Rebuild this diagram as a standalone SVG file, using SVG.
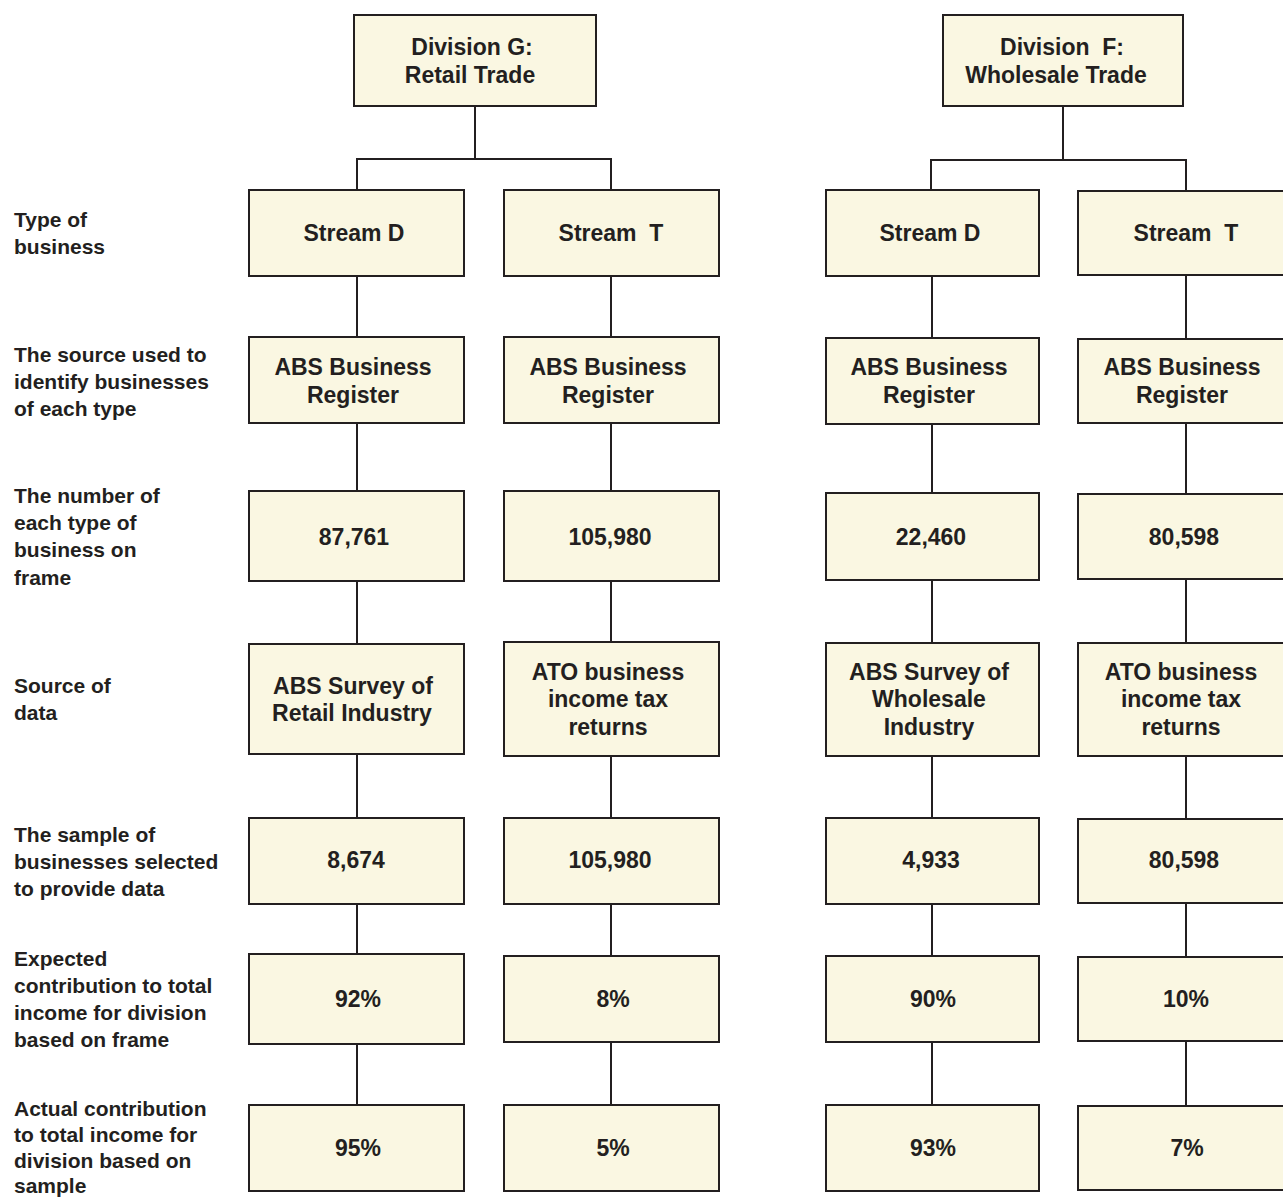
<svg xmlns="http://www.w3.org/2000/svg" width="1283" height="1198" viewBox="0 0 1283 1198">
<style>
.box{fill:#FAF7E2;stroke:#231F20;stroke-width:2}
.bt{font-family:"Liberation Sans",Arial,sans-serif;font-weight:bold;font-size:23px;fill:#231F20;text-anchor:middle}
.lb{font-family:"Liberation Sans",Arial,sans-serif;font-weight:bold;font-size:21px;fill:#231F20}
.cn{stroke:#231F20;stroke-width:2;fill:none}
</style>
<rect width="1283" height="1198" fill="#FFFFFF"/>
<g id="connectors">
<path class="cn" d="M475,106 V159 M357,190 V159 H611 V190"/>
<path class="cn" d="M1063,106 V160 M931,190 V160 H1186 V190"/>
<path class="cn" d="M357,273 V337 M357,423 V491 M357,581 V644 M357,754 V818 M357,904 V954 M357,1041 V1105"/>
<path class="cn" d="M611,276 V342 M611,423 V491 M611,581 V642 M611,756 V818 M611,904 V956 M611,1042 V1105"/>
<path class="cn" d="M932,276 V338 M932,424 V493 M932,580 V643 M932,756 V818 M932,904 V956 M932,1042 V1105"/>
<path class="cn" d="M1186,275 V339 M1186,423 V494 M1186,579 V643 M1186,756 V818 M1186,904 V957 M1186,1041 V1106"/>
</g>
<g id="labels">
<text class="lb" x="14" y="227">Type of</text>
<text class="lb" x="14" y="254">business</text>
<text class="lb" x="14" y="362">The source used to</text>
<text class="lb" x="14" y="389">identify businesses</text>
<text class="lb" x="14" y="416">of each type</text>
<text class="lb" x="14" y="503">The number of</text>
<text class="lb" x="14" y="530">each type of</text>
<text class="lb" x="14" y="557">business on</text>
<text class="lb" x="14" y="585">frame</text>
<text class="lb" x="14" y="693">Source of</text>
<text class="lb" x="14" y="720">data</text>
<text class="lb" x="14" y="842">The sample of</text>
<text class="lb" x="14" y="869">businesses selected</text>
<text class="lb" x="14" y="896">to provide data</text>
<text class="lb" x="14" y="966">Expected</text>
<text class="lb" x="14" y="993">contribution to total</text>
<text class="lb" x="14" y="1020">income for division</text>
<text class="lb" x="14" y="1047">based on frame</text>
<text class="lb" x="14" y="1116">Actual contribution</text>
<text class="lb" x="14" y="1142">to total income for</text>
<text class="lb" x="14" y="1168">division based on</text>
<text class="lb" x="14" y="1193">sample</text>
</g>
<g id="divG"><rect class="box" x="354" y="15" width="242" height="91"/><text class="bt" x="472" y="55">Division G:</text><text class="bt" x="470" y="83">Retail Trade</text></g>
<g id="divF"><rect class="box" x="943" y="15" width="240" height="91"/><text class="bt" x="1062" y="55" xml:space="preserve">Division  F:</text><text class="bt" x="1056" y="83">Wholesale Trade</text></g>

<g id="g-streamD"><rect class="box" x="249" y="190" width="215" height="86"/><text class="bt" x="354" y="241">Stream D</text></g>
<g id="g-streamT"><rect class="box" x="504" y="190" width="215" height="86"/><text class="bt" x="611" y="241" xml:space="preserve">Stream  T</text></g>
<g id="f-streamD"><rect class="box" x="826" y="190" width="213" height="86"/><text class="bt" x="930" y="241">Stream D</text></g>
<g id="f-streamT"><rect class="box" x="1078" y="191" width="222" height="84"/><text class="bt" x="1186" y="241" xml:space="preserve">Stream  T</text></g>

<g id="g-D-source"><rect class="box" x="249" y="337" width="215" height="86"/><text class="bt" x="353" y="375">ABS Business</text><text class="bt" x="353" y="403">Register</text></g>
<g id="g-T-source"><rect class="box" x="504" y="337" width="215" height="86"/><text class="bt" x="608" y="375">ABS Business</text><text class="bt" x="608" y="403">Register</text></g>
<g id="f-D-source"><rect class="box" x="826" y="338" width="213" height="86"/><text class="bt" x="929" y="375">ABS Business</text><text class="bt" x="929" y="403">Register</text></g>
<g id="f-T-source"><rect class="box" x="1078" y="339" width="222" height="84"/><text class="bt" x="1182" y="375">ABS Business</text><text class="bt" x="1182" y="403">Register</text></g>

<g id="g-D-number"><rect class="box" x="249" y="491" width="215" height="90"/><text class="bt" x="354" y="545">87,761</text></g>
<g id="g-T-number"><rect class="box" x="504" y="491" width="215" height="90"/><text class="bt" x="610" y="545">105,980</text></g>
<g id="f-D-number"><rect class="box" x="826" y="493" width="213" height="87"/><text class="bt" x="931" y="545">22,460</text></g>
<g id="f-T-number"><rect class="box" x="1078" y="494" width="222" height="85"/><text class="bt" x="1184" y="545">80,598</text></g>

<g id="g-D-data"><rect class="box" x="249" y="644" width="215" height="110"/><text class="bt" x="353" y="694">ABS Survey of</text><text class="bt" x="352" y="721">Retail Industry</text></g>
<g id="g-T-data"><rect class="box" x="504" y="642" width="215" height="114"/><text class="bt" x="608" y="680">ATO business</text><text class="bt" x="608" y="707">income tax</text><text class="bt" x="608" y="735">returns</text></g>
<g id="f-D-data"><rect class="box" x="826" y="643" width="213" height="113"/><text class="bt" x="929" y="680">ABS Survey of</text><text class="bt" x="929" y="707">Wholesale</text><text class="bt" x="929" y="735">Industry</text></g>
<g id="f-T-data"><rect class="box" x="1078" y="643" width="222" height="113"/><text class="bt" x="1181" y="680">ATO business</text><text class="bt" x="1181" y="707">income tax</text><text class="bt" x="1181" y="735">returns</text></g>

<g id="g-D-sample"><rect class="box" x="249" y="818" width="215" height="86"/><text class="bt" x="356" y="868">8,674</text></g>
<g id="g-T-sample"><rect class="box" x="504" y="818" width="215" height="86"/><text class="bt" x="610" y="868">105,980</text></g>
<g id="f-D-sample"><rect class="box" x="826" y="818" width="213" height="86"/><text class="bt" x="931" y="868">4,933</text></g>
<g id="f-T-sample"><rect class="box" x="1078" y="819" width="222" height="84"/><text class="bt" x="1184" y="868">80,598</text></g>

<g id="g-D-expected"><rect class="box" x="249" y="954" width="215" height="90"/><text class="bt" x="358" y="1007">92%</text></g>
<g id="g-T-expected"><rect class="box" x="504" y="956" width="215" height="86"/><text class="bt" x="613" y="1007">8%</text></g>
<g id="f-D-expected"><rect class="box" x="826" y="956" width="213" height="86"/><text class="bt" x="933" y="1007">90%</text></g>
<g id="f-T-expected"><rect class="box" x="1078" y="957" width="222" height="84"/><text class="bt" x="1186" y="1007">10%</text></g>

<g id="g-D-actual"><rect class="box" x="249" y="1105" width="215" height="86"/><text class="bt" x="358" y="1156">95%</text></g>
<g id="g-T-actual"><rect class="box" x="504" y="1105" width="215" height="86"/><text class="bt" x="613" y="1156">5%</text></g>
<g id="f-D-actual"><rect class="box" x="826" y="1105" width="213" height="86"/><text class="bt" x="933" y="1156">93%</text></g>
<g id="f-T-actual"><rect class="box" x="1078" y="1106" width="222" height="84"/><text class="bt" x="1187" y="1156">7%</text></g>
</svg>
